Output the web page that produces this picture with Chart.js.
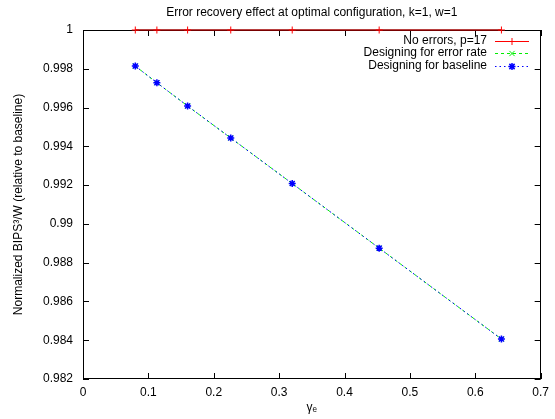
<!DOCTYPE html>
<html>
<head>
<meta charset="utf-8">
<script src="https://cdn.jsdelivr.net/npm/chart.js@4.4.1/dist/chart.umd.min.js"></script>
<style>
html,body{margin:0;padding:0;background:#fff;}
#wrap{width:555px;height:419px;}
</style>
</head>
<body>
<div id="wrap"><canvas id="c" width="555" height="419"></canvas></div>
<script>
// ---- data ----
const gammaE = [0.08, 0.113, 0.16, 0.226, 0.32, 0.453, 0.64];
const noErrors = [1, 1, 1, 1, 1, 1, 1];
const designErrorRate = [0.99814, 0.99728, 0.99608, 0.99443, 0.99208, 0.98875, 0.98406];
const designBaseline = [0.99814, 0.99728, 0.99608, 0.99443, 0.99208, 0.98875, 0.98406];
const seriesNames = ['No errors, p=17', 'Designing for error rate', 'Designing for baseline'];
const xTicks = [0, 0.1, 0.2, 0.3, 0.4, 0.5, 0.6, 0.7];
const yTicks = [0.982, 0.984, 0.986, 0.988, 0.99, 0.992, 0.994, 0.996, 0.998, 1];
const titleText = 'Error recovery effect at optimal configuration, k=1, w=1';
const xTitle = 'γₑ';
const yTitle = 'Normalized BIPS³/W (relative to baseline)';

const pts = (ys) => gammaE.map((x, i) => ({x: x, y: ys[i]}));
const FONT = "'Liberation Sans', Arial, Helvetica, sans-serif";
const legendLineColors = ['#ff0000', '#00ee00', '#0000ff'];

function drawMarker(ctx, style, r, x, y) {
  if (style === 'cross' || style === 'star') {
    ctx.moveTo(x - r, y); ctx.lineTo(x + r, y);
    ctx.moveTo(x, y - r); ctx.lineTo(x, y + r);
  }
  if (style === 'crossRot' || style === 'star') {
    const d = r * 0.75;
    ctx.moveTo(x - d, y - d); ctx.lineTo(x + d, y + d);
    ctx.moveTo(x - d, y + d); ctx.lineTo(x + d, y - d);
  }
}

const frame = {
  id: 'frame',
  beforeDatasetsDraw(chart) {
    const {ctx, chartArea: a} = chart;
    ctx.save();
    ctx.strokeStyle = '#000';
    ctx.lineWidth = 1;
    ctx.strokeRect(Math.round(a.left) + 0.5, Math.round(a.top) + 0.5, Math.round(a.right - a.left) - 1, Math.round(a.bottom - a.top) - 1);
    const xs = chart.scales.x, ys = chart.scales.y;
    ctx.beginPath();
    xTicks.forEach(v => {
      const px = Math.round(xs.getPixelForValue(v)) + 0.5;
      ctx.moveTo(px, a.bottom); ctx.lineTo(px, a.bottom - 6);
      ctx.moveTo(px, a.top); ctx.lineTo(px, a.top + 6);
    });
    yTicks.forEach(v => {
      const py = Math.round(ys.getPixelForValue(v)) + 0.5;
      ctx.moveTo(a.left, py); ctx.lineTo(a.left + 6, py);
      ctx.moveTo(a.right, py); ctx.lineTo(a.right - 6, py);
    });
    ctx.stroke();
    ctx.restore();
  },
  afterDraw(chart) {
    const {ctx} = chart;
    ctx.save();
    ctx.font = '12px ' + FONT;
    ctx.textAlign = 'right';
    ctx.textBaseline = 'middle';
    const rowY = [40.5, 53, 65.5];
    chart.data.datasets.forEach((ds, i) => {
      const y = Math.round(rowY[i]) + 0.5;
      ctx.fillStyle = '#000';
      ctx.fillText(seriesNames[i], 487, rowY[i]);
      ctx.strokeStyle = legendLineColors[i];
      ctx.lineWidth = 1;
      ctx.setLineDash(ds.borderDash || []);
      ctx.beginPath();
      ctx.moveTo(495, y);
      ctx.lineTo(529, y);
      ctx.stroke();
      ctx.setLineDash([]);
      ctx.strokeStyle = ds.pointBorderColor;
      ctx.lineWidth = ds.pointBorderWidth;
      ctx.beginPath();
      drawMarker(ctx, ds.pointStyle, ds.pointRadius, 512, y);
      ctx.stroke();
    });
    ctx.restore();
  }
};

new Chart(document.getElementById('c'), {
  type: 'scatter',
  data: {
    datasets: [
      {
        label: seriesNames[0], data: pts(noErrors), showLine: true, clip: false,
        borderColor: '#a00000', borderWidth: 1.3, order: 2,
        pointStyle: 'cross', pointRadius: 3.5, pointBorderWidth: 1,
        pointBorderColor: '#ff0000', pointBackgroundColor: '#ff0000'
      },
      {
        label: seriesNames[1], data: pts(designErrorRate), showLine: true, clip: false,
        borderColor: '#00ee00', borderWidth: 1, borderDash: [3, 3], order: 1,
        pointStyle: 'crossRot', pointRadius: 3.5, pointBorderWidth: 1,
        pointBorderColor: '#00ee00', pointBackgroundColor: '#00ee00'
      },
      {
        label: seriesNames[2], data: pts(designBaseline), showLine: true, clip: false,
        borderColor: '#0000ff', borderWidth: 1, borderDash: [1.5, 3], order: 0,
        pointStyle: 'star', pointRadius: 3.5, pointBorderWidth: 1.5,
        pointBorderColor: '#0000ff', pointBackgroundColor: '#0000ff'
      }
    ]
  },
  options: {
    responsive: false,
    animation: false,
    events: [],
    layout: {padding: {left: 0, right: 11, top: 0, bottom: 0}},
    plugins: {
      legend: {display: false},
      tooltip: {enabled: false},
      title: {
        display: true, text: titleText, fullSize: false,
        color: '#000', font: {family: FONT, size: 12, weight: 'normal', lineHeight: 1.2},
        padding: {top: 5, bottom: 10.6}
      }
    },
    scales: {
      x: {
        type: 'linear', min: 0, max: 0.7,
        afterFit(s) { s.height = 40; },
        afterBuildTicks(s) { s.ticks = xTicks.map(v => ({value: v})); },
        grid: {display: false, drawTicks: false},
        border: {display: false},
        ticks: {
          color: '#000', font: {family: FONT, size: 12}, padding: 6,
          maxRotation: 0, autoSkip: false,
          callback: v => String(Math.round(v * 10) / 10)
        },
        title: {display: true, text: xTitle, color: '#000', font: {family: FONT, size: 12}, padding: {top: 0, bottom: 4}}
      },
      y: {
        type: 'linear', min: 0.982, max: 1,
        afterFit(s) { s.width = 83; },
        afterBuildTicks(s) { s.ticks = yTicks.map(v => ({value: v})); },
        grid: {display: false, drawTicks: false},
        border: {display: false},
        ticks: {
          color: '#000', font: {family: FONT, size: 12}, padding: 10,
          autoSkip: false,
          callback: v => String(parseFloat(v.toFixed(3)))
        },
        title: {display: true, text: yTitle, color: '#000', font: {family: FONT, size: 12}, padding: {top: 11, bottom: 0}}
      }
    }
  },
  plugins: [frame]
});
</script>
</body>
</html>
